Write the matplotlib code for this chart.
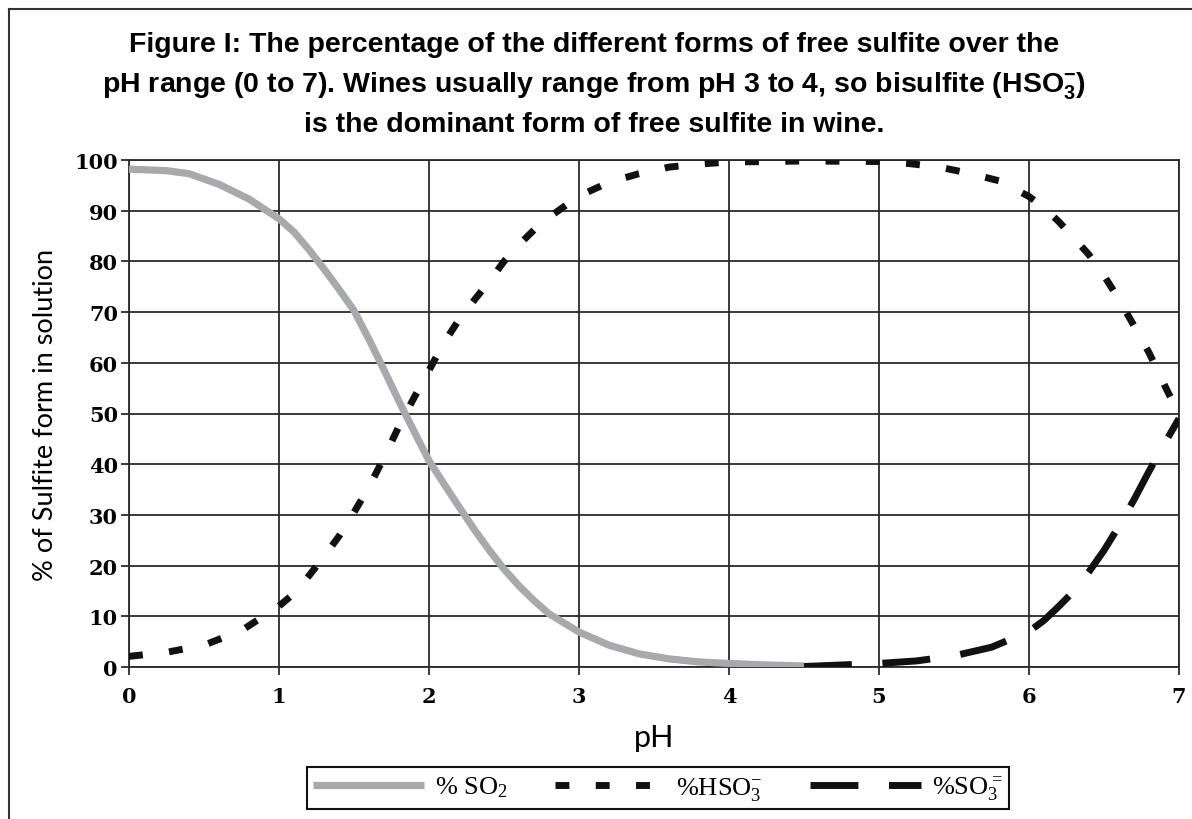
import matplotlib
matplotlib.use("Agg")
import matplotlib.pyplot as plt
from matplotlib.lines import Line2D

# ---- data ----
ph_so2 = [0, 0.25, 0.4, 0.6, 0.8, 1.0, 1.1, 1.2, 1.3, 1.4, 1.5, 1.6, 1.7, 1.8, 1.9, 2.0,
          2.1, 2.2, 2.3, 2.4, 2.5, 2.6, 2.7, 2.8, 3.0, 3.2, 3.4, 3.6, 3.8, 4.0, 4.25, 4.5]
so2 = [98.2, 97.9, 97.3, 95.2, 92.3, 88.4, 85.8, 82.3, 78.5, 74.5, 70.3, 64.6, 58.6, 52.4, 46.5, 40.7,
       36.1, 31.6, 27.2, 23.1, 19.3, 16.0, 13.1, 10.5, 6.9, 4.3, 2.6, 1.6, 1.0, 0.7, 0.4, 0.2]

ph_hso3 = [0, 0.25, 0.5, 0.75, 1.0, 1.1, 1.2, 1.3, 1.4, 1.5, 1.6, 1.7, 1.8, 1.9, 2.0, 2.1, 2.2,
           2.3, 2.4, 2.5, 2.6, 2.7, 2.8, 3.0, 3.2, 3.4, 3.6, 3.8, 4.0, 4.5, 5.0, 5.2, 5.4, 5.6,
           5.8, 6.0, 6.1, 6.2, 6.3, 6.4, 6.5, 6.6, 6.7, 6.8, 6.9, 7.0]
hso3 = [2.1, 2.9, 4.3, 7.2, 12.0, 14.5, 18.0, 21.8, 25.8, 30.5, 35.5, 41.3, 47.5, 53.1, 58.5, 64.0, 68.5,
        72.3, 76.0, 80.0, 83.3, 86.2, 88.7, 92.9, 95.6, 97.3, 98.6, 99.2, 99.6, 99.8, 99.7, 99.3, 98.6, 97.4,
        95.9, 92.8, 90.6, 87.8, 84.6, 81.3, 77.2, 72.5, 67.3, 62.0, 55.8, 49.8]

ph_so3 = [4.5, 4.75, 5.0, 5.25, 5.5, 5.75, 6.0, 6.1, 6.2, 6.3, 6.4, 6.5, 6.6, 6.7, 6.8, 6.9, 7.0]
so3 = [0.1, 0.4, 0.7, 1.2, 2.2, 3.9, 7.0, 9.2, 12.0, 15.0, 18.8, 23.0, 27.8, 33.0, 38.6, 43.9, 49.0]

x_ticks = [0, 1, 2, 3, 4, 5, 6, 7]
y_ticks = [0, 10, 20, 30, 40, 50, 60, 70, 80, 90, 100]

title_lines = [
    "Figure I: The percentage of the different forms of free sulfite over the",
    r"pH range (0 to 7). Wines usually range from pH 3 to 4, so bisulfite (HSO$\mathregular{_3^{-}}$)",
    "is the dominant form of free sulfite in wine.",
]
labels = [r"% SO$\mathregular{_2}$", r"%HSO$\mathregular{_3^{-}}$", r"%SO$\mathregular{_3^{=}}$"]

W, H = 1192, 820
fig = plt.figure(figsize=(W / 100, H / 100), dpi=100)
ax = fig.add_axes([129 / W, 1 - 668 / H, (1179 - 129) / W, (668 - 161) / H])

title_font = ["Liberation Sans Narrow", "Liberation Sans", "DejaVu Sans"]
serif = ["Liberation Serif", "DejaVu Serif"]
tickfont = ["DejaVu Serif"]
sans = ["Lato", "DejaVu Sans"]

grid_c = "#2a2a2a"
l1, = ax.plot(ph_so2, so2, color="#a7a9ac", lw=5.2, solid_capstyle="butt", zorder=3)
l2, = ax.plot(ph_hso3, hso3, color="#111111", lw=5.0, linestyle=(0, (2.0, 3.8)),
              dash_capstyle="butt", zorder=4)
l3, = ax.plot(ph_so3, so3, color="#111111", lw=5.0, linestyle=(0, (6.9, 4.4)),
              dash_capstyle="butt", zorder=4)

ax.set_xlim(0, 7)
ax.set_ylim(0, 100)
ax.set_xticks(x_ticks)
ax.set_yticks(y_ticks)
ax.set_xticklabels([str(v) for v in x_ticks], fontfamily=tickfont, fontweight="bold", fontsize=15)
ax.set_yticklabels([str(v) for v in y_ticks], fontfamily=tickfont, fontweight="bold", fontsize=15)
ax.tick_params(axis="y", direction="out", length=6, width=1.3, color=grid_c, pad=2)
ax.tick_params(axis="x", direction="out", length=6, width=1.3, color=grid_c, pad=8)
ax.grid(True, color=grid_c, lw=1.3)
ax.set_axisbelow(True)
for s in ax.spines.values():
    s.set_color(grid_c)
    s.set_linewidth(1.3)

fig.text(654 / W, 1 - 738 / H, "pH", ha="center", va="center", fontsize=22, family=sans)
fig.text(46 / W, 1 - 415 / H, "% of Sulfite form in solution", ha="center", va="center",
         rotation=90, fontsize=19.5, family=sans)

ys = [45, 86, 125]
for t, y in zip(title_lines, ys):
    fig.text(594 / W, 1 - y / H, t, ha="center", va="center", fontsize=20.5,
             fontweight="bold", family=title_font)

leg = fig.legend([l1, l2, l3], labels, loc="center", ncol=3,
                 bbox_to_anchor=(658 / W, 1 - 789 / H), bbox_transform=fig.transFigure,
                 prop={"family": serif, "size": 19}, frameon=True, fancybox=False,
                 framealpha=1, edgecolor="#111111", handlelength=4.2, columnspacing=1.8,
                 handletextpad=0.4, borderpad=0.25)
leg.get_frame().set_linewidth(1.5)

# outer frame (left and top)
fig.add_artist(Line2D([9 / W, 9 / W], [0, 1 - 10 / H], transform=fig.transFigure, color="#333333", lw=1.5))
fig.add_artist(Line2D([9 / W, 1], [1 - 10 / H, 1 - 10 / H], transform=fig.transFigure, color="#333333", lw=1.5))

fig.savefig("out.png", dpi=100)
